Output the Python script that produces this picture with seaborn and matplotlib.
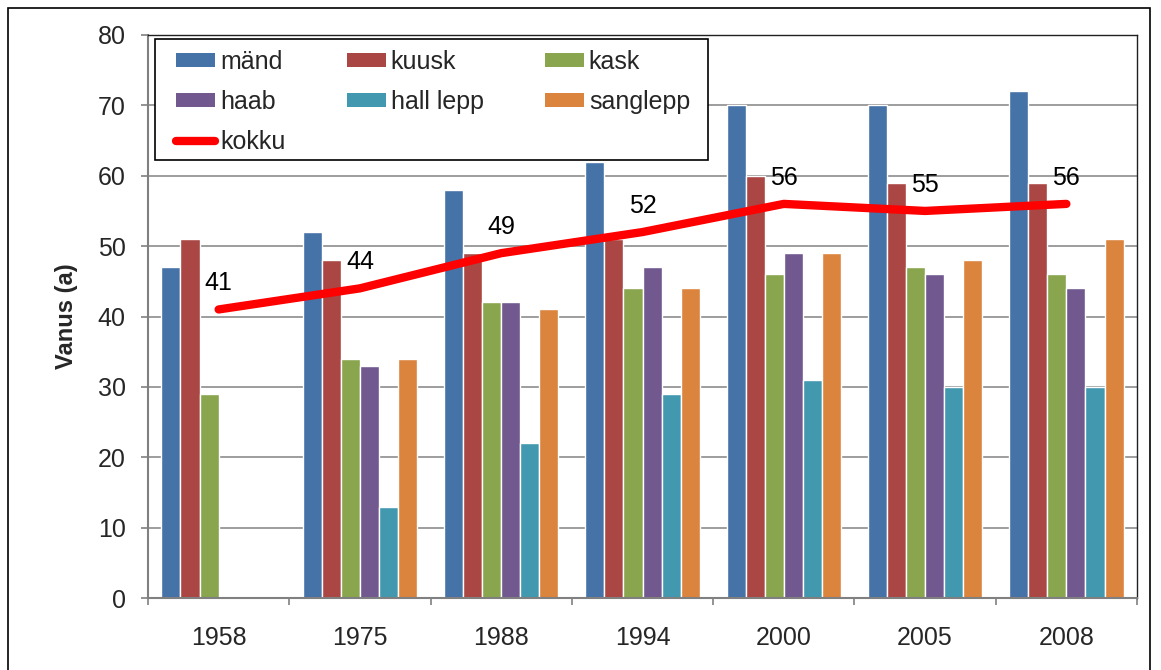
import numpy as np
import pandas as pd
import matplotlib
matplotlib.use("Agg")
import matplotlib.pyplot as plt
from matplotlib.patches import Patch, Rectangle
from matplotlib.lines import Line2D
import seaborn as sns

# andmed (loetud jooniselt)
aastad = ["1958", "1975", "1988", "1994", "2000", "2005", "2008"]
liigid = ["mänd", "kuusk", "kask", "haab", "hall lepp", "sanglepp"]
mand = [47, 52, 58, 62, 70, 70, 72]
kuusk = [51, 48, 49, 51, 60, 59, 59]
kask = [29, 34, 42, 44, 46, 47, 46]
haab = [np.nan, 33, 42, 47, 49, 46, 44]
hall_lepp = [np.nan, 13, 22, 29, 31, 30, 30]
sanglepp = [np.nan, 34, 41, 44, 49, 48, 51]
kokku = [41, 44, 49, 52, 56, 55, 56]

varvid = ["#4572A7", "#AA4643", "#89A54E", "#71588F", "#4198AF", "#DB843D"]

sns.set_theme(style="white")
plt.rcParams["font.family"] = ["Liberation Sans", "DejaVu Sans"]

W, H = 1161, 670
FS = 18

# pikk tabel seaborni jaoks
read = []
for liik, vaartused in zip(liigid, [mand, kuusk, kask, haab, hall_lepp, sanglepp]):
    for aasta, v in zip(aastad, vaartused):
        read.append({"aasta": aasta, "liik": liik, "vanus": v})
df = pd.DataFrame(read)

fig = plt.figure(figsize=(W / 100, H / 100), dpi=100)
ax = fig.add_axes([148 / W, 1 - 598 / H, (1137 - 148) / W, (598 - 35) / H])

sns.barplot(data=df, x="aasta", y="vanus", hue="liik", hue_order=liigid,
            order=aastad, palette=varvid, width=0.81, saturation=1,
            errorbar=None, legend=False, ax=ax, zorder=2)

x = np.arange(len(aastad))
ax.plot(x, kokku, color="#FF0000", lw=6, solid_capstyle="round",
        solid_joinstyle="round", zorder=3)
for xi, v in zip(x, kokku):
    ax.annotate(str(v), (xi, v), xytext=(0, 19), textcoords="offset points",
                ha="center", va="center", fontsize=FS, color="black", zorder=4)

ax.set_xlim(-0.5, len(aastad) - 0.5)
ax.set_ylim(0, 80)
ax.set_yticks(np.arange(0, 81, 10))
ax.yaxis.grid(True, color="#8c8c8c", lw=1.2, zorder=0)
ax.set_axisbelow(True)

ax.set_xticks(x)
ax.set_xticklabels(aastad)
ax.set_xticks(np.arange(-0.5, len(aastad), 1), minor=True)
ax.tick_params(axis="x", which="major", length=0, pad=20, labelsize=FS)
ax.tick_params(axis="x", which="minor", length=5, width=1.2, color="#808080",
               direction="out", bottom=True)
ax.tick_params(axis="y", length=5, width=1.2, color="#808080", direction="out",
               left=True, pad=11, labelsize=FS)

ax.set_xlabel("")
ax.set_ylabel("Vanus (a)", fontsize=17, fontweight="bold", labelpad=14)

for s in ["left", "bottom"]:
    ax.spines[s].set_color("#808080")
    ax.spines[s].set_linewidth(1.5)
for s in ["top", "right"]:
    ax.spines[s].set_color("#202020")
    ax.spines[s].set_linewidth(1.0)

# legendi raam eraldi, et saaks täpselt paigutada
raam = Rectangle((155 / W, 1 - 160 / H), (708 - 155) / W, (160 - 39) / H,
                 transform=fig.transFigure, facecolor="white", edgecolor="black",
                 lw=1.2, zorder=5)
ax.add_artist(raam)
raam.set_clip_on(False)

# legend, järjestus nii et read lähevad vasakult paremale
kast = [Patch(facecolor=c, edgecolor="none") for c in varvid]
joon = Line2D([0], [0], color="#FF0000", lw=6, solid_capstyle="round")
kaepidemed = [kast[0], kast[3], joon, kast[1], kast[4], kast[2], kast[5]]
sildid = [liigid[0], liigid[3], "kokku", liigid[1], liigid[4], liigid[2], liigid[5]]
leg = ax.legend(kaepidemed, sildid, ncol=3, loc="upper left",
                bbox_to_anchor=(176 / W, 1 - 50 / H), bbox_transform=fig.transFigure,
                fontsize=FS, frameon=False, handlelength=1.56, handleheight=0.48,
                handletextpad=0.2, labelspacing=0.64, columnspacing=2.45,
                borderpad=0, borderaxespad=0)
leg.set_zorder(6)

# välimine raam
fig.patches.append(Rectangle((8 / W, -0.02), (1150 - 8) / W, 1.02 - 8 / H,
                             transform=fig.transFigure, fill=False,
                             edgecolor="black", lw=1.2))

fig.savefig("out.png", dpi=100, facecolor="white")
